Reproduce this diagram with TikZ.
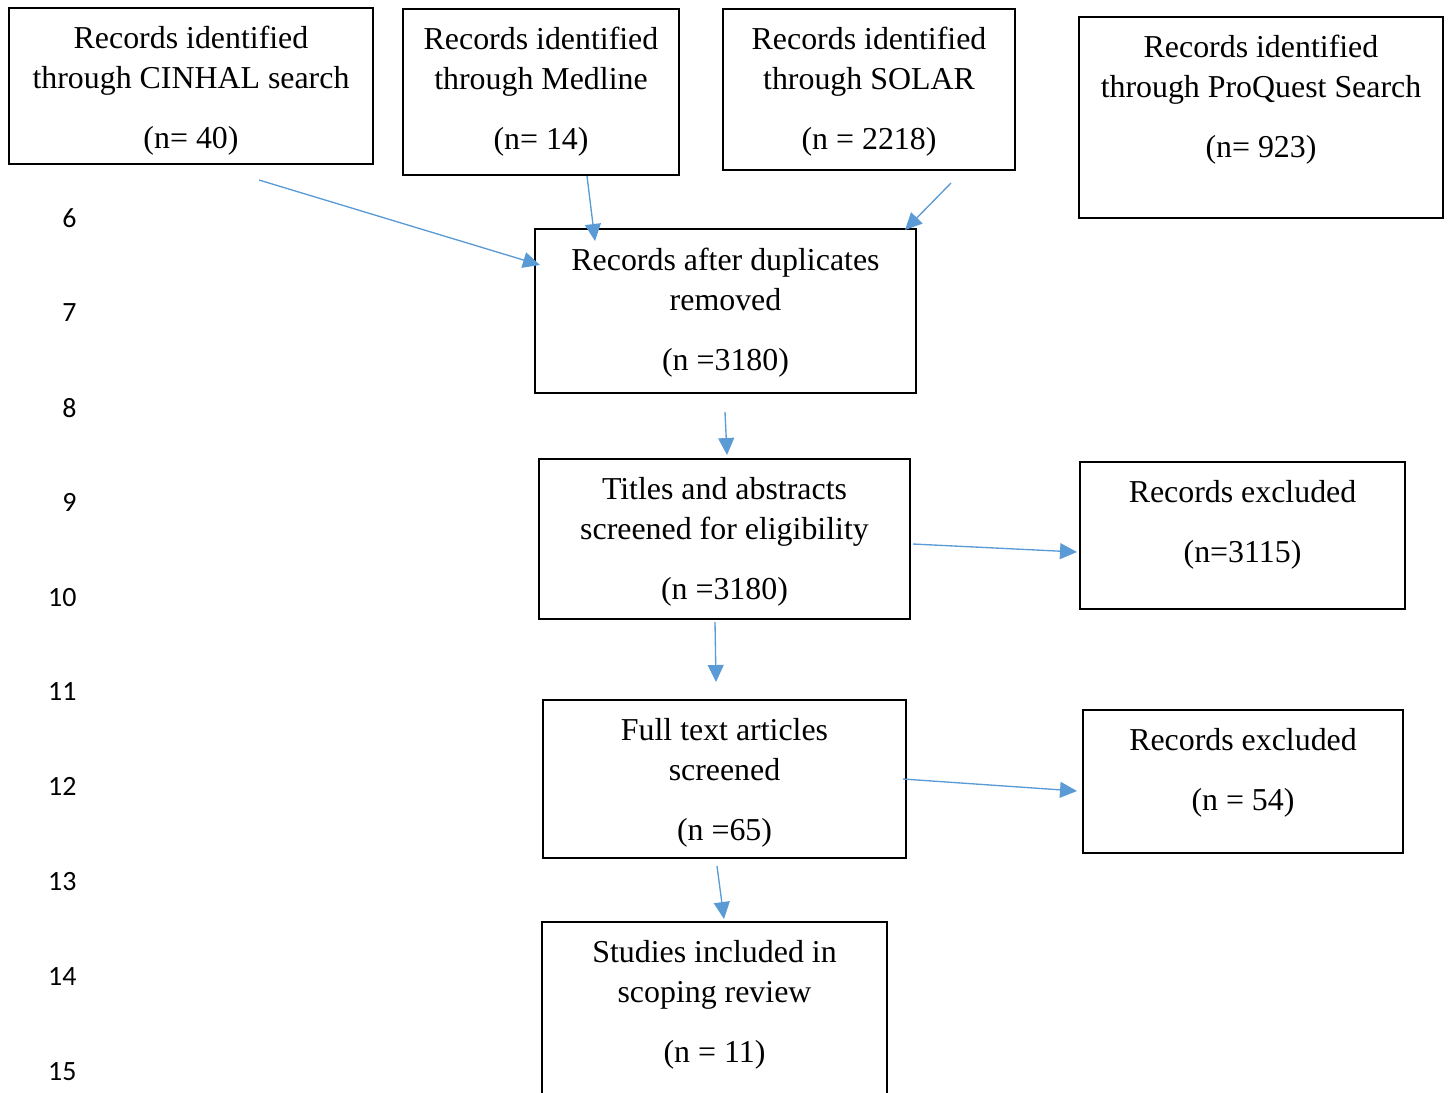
\documentclass[tikz,border=0pt]{standalone}
\usepackage{fontspec}
\setmainfont{Liberation Serif}
\newfontfamily\numfont{Carlito}
\usetikzlibrary{positioning,arrows.meta,calc,fit}
\definecolor{tblue}{RGB}{91,155,213}

\begin{document}
\begin{tikzpicture}[
    x=0.01323cm, y=-0.01323cm,
    font=\fontsize{12}{15}\selectfont,
    >={Triangle[length=6.4pt,width=6pt]},
    box/.style={draw=black, line width=0.55pt, inner sep=0pt},
    txt/.style={anchor=north, align=center, inner sep=0pt},
    arr/.style={->, draw=tblue, fill=tblue, line width=0.5pt},
    lnum/.style={anchor=east, inner sep=0pt, font=\numfont\fontsize{10.5}{12}\selectfont},
]
\useasboundingbox (0,0) rectangle (1453,1092);
\clip (0,0) rectangle (1453,1092);

% ---------- line numbers ----------
\foreach \n in {6,...,15}
  \node[lnum] (ln\n) at (77,{218+(\n-6)*94.8}) {\n};

% ---------- sources ----------
\node[box, fit={(9,8) (373,164)}]      (cinhal)   {};
\node[box, fit={(403,9) (679,175)}]    (medline)  {};
\node[box, fit={(723,9) (1015,170)}]   (solar)    {};
\node[box, fit={(1079,17) (1443,218)}] (proquest) {};

\node[txt] (cinhaltxt)   at ($(cinhal.north)+(0,18)$)   {Records identified\\through CINHAL search\\[7.6pt](n= 40)};
\node[txt] (medlinetxt)  at ($(medline.north)+(0,18)$)  {Records identified\\through Medline\\[7.6pt](n= 14)};
\node[txt] (solartxt)    at ($(solar.north)+(0,18)$)    {Records identified\\through SOLAR\\[7.6pt](n = 2218)};
\node[txt] (proquesttxt) at ($(proquest.north)+(0,18)$) {Records identified\\through ProQuest Search\\[7.6pt](n= 923)};

% ---------- screening path ----------
\node[box, fit={(535,229) (916,393)}]   (dup)     {};
\node[box, fit={(539,459) (910,619)}]   (titles)  {};
\node[box, fit={(1080,462) (1405,609)}] (exclA)   {};
\node[box, fit={(543,700) (906,858)}]   (full)    {};
\node[box, fit={(1083,710) (1403,853)}] (exclB)   {};
\node[box, fit={(542,922) (887,1120)}]  (studies) {};

\node[txt] (duptxt)     at ($(dup.north)+(0,19)$)     {Records after duplicates\\removed\\[7.6pt](n =3180)};
\node[txt] (titlestxt)  at ($(titles.north)+(0,19)$)  {Titles and abstracts\\screened for eligibility\\[7.6pt](n =3180)};
\node[txt] (exclAtxt)   at ($(exclA.north)+(0,19)$)   {Records excluded\\[7.6pt](n=3115)};
\node[txt] (fulltxt)    at ($(full.north)+(0,19)$)    {Full text articles\\screened\\[7.6pt](n =65)};
\node[txt] (exclBtxt)   at ($(exclB.north)+(0,19)$)   {Records excluded\\[7.6pt](n = 54)};
\node[txt] (studiestxt) at ($(studies.north)+(0,19)$) {Studies included in\\scoping review\\[7.6pt](n = 11)};

% ---------- connectors ----------
\coordinate (c1) at (259,180);  \coordinate (d1) at (540,265);
\coordinate (c2) at (587,176);  \coordinate (d2) at (595,241);
\coordinate (c3) at (951,183);  \coordinate (d3) at (905,230);
\coordinate (c4) at (725,412);  \coordinate (d4) at (727,455);
\coordinate (c5) at (715,622);  \coordinate (d5) at (716,682);
\coordinate (c6) at (913,544);  \coordinate (d6) at (1077,552);
\coordinate (c7) at (903,779);  \coordinate (d7) at (1077,791);
\coordinate (c8) at (717,866);  \coordinate (d8) at (724,919);

\foreach \i in {1,...,8}
  \draw[arr] (c\i) -- (d\i);

\end{tikzpicture}
\end{document}
